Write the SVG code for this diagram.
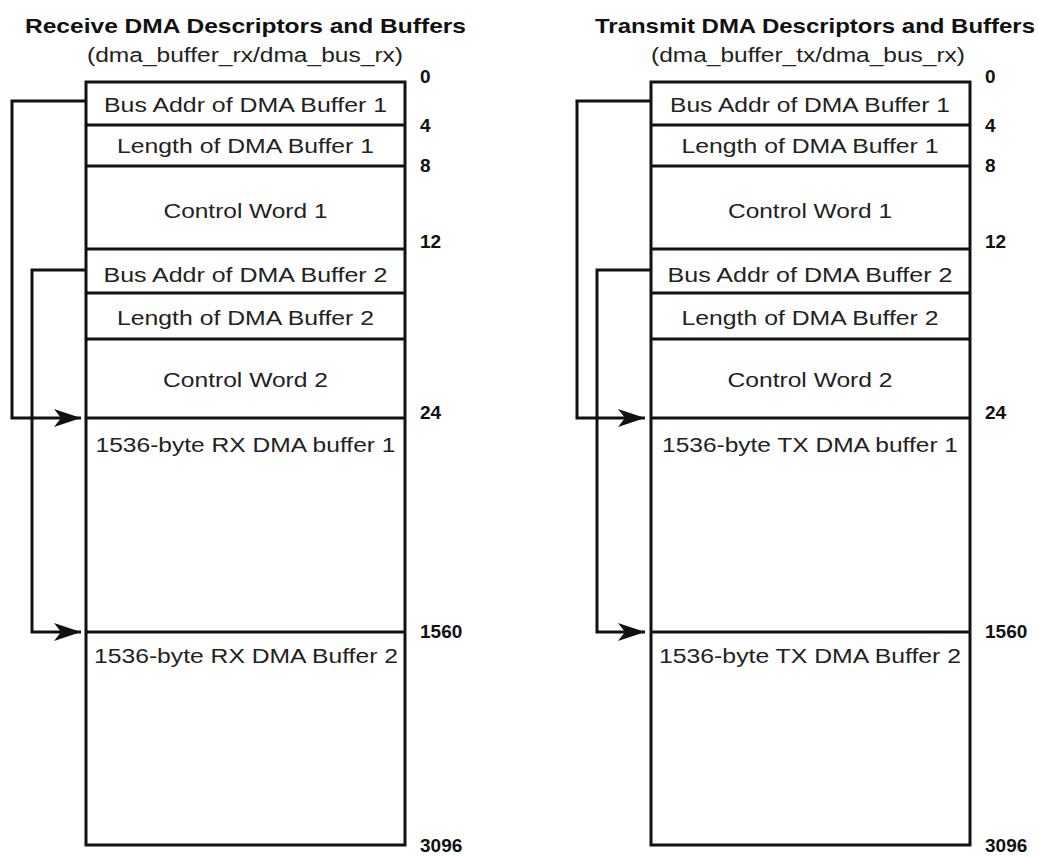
<svg xmlns="http://www.w3.org/2000/svg" width="1039" height="857" viewBox="0 0 1039 857">
<style>
.title{font-family:"Liberation Sans",Arial,sans-serif;font-weight:bold;font-size:21px;fill:#111}
.sub{font-family:"Liberation Sans",Arial,sans-serif;font-size:20px;fill:#222}
.lbl{font-family:"Liberation Sans",Arial,sans-serif;font-size:20px;fill:#222;text-anchor:middle}
.num{font-family:"Liberation Sans",Arial,sans-serif;font-weight:bold;font-size:19px;fill:#111}
.box{fill:#fff;stroke:#111;stroke-width:3}
.sep{stroke:#111;stroke-width:3}
.conn{fill:none;stroke:#111;stroke-width:3}
</style>
<defs>
<marker id="arr" markerUnits="userSpaceOnUse" markerWidth="30" markerHeight="20" viewBox="-28 -10 30 20" refX="0" refY="0" orient="auto">
<path d="M0,0 L-27,-9 L-20,0 L-27,9 Z" fill="#111"/>
</marker>
</defs>

<text class="title" x="25" y="33" textLength="441" lengthAdjust="spacingAndGlyphs">Receive DMA Descriptors and Buffers</text>
<text class="sub" x="87" y="62" textLength="316" lengthAdjust="spacingAndGlyphs">(dma_buffer_rx/dma_bus_rx)</text>
<text class="title" x="595" y="33" textLength="440" lengthAdjust="spacingAndGlyphs">Transmit DMA Descriptors and Buffers</text>
<text class="sub" x="651" y="62" textLength="314" lengthAdjust="spacingAndGlyphs">(dma_buffer_tx/dma_bus_rx)</text>

<g id="rx-table">
<rect class="box" x="86" y="82" width="319" height="763"/>
<line class="sep" x1="86" y1="125" x2="405" y2="125"/>
<line class="sep" x1="86" y1="166" x2="405" y2="166"/>
<line class="sep" x1="86" y1="249" x2="405" y2="249"/>
<line class="sep" x1="86" y1="293" x2="405" y2="293"/>
<line class="sep" x1="86" y1="339" x2="405" y2="339"/>
<line class="sep" x1="86" y1="418" x2="405" y2="418"/>
<line class="sep" x1="86" y1="632" x2="405" y2="632"/>
<text class="lbl" x="245.5" y="112" textLength="283" lengthAdjust="spacingAndGlyphs">Bus Addr of DMA Buffer 1</text>
<text class="lbl" x="245.5" y="153" textLength="257" lengthAdjust="spacingAndGlyphs">Length of DMA Buffer 1</text>
<text class="lbl" x="245.5" y="218" textLength="164" lengthAdjust="spacingAndGlyphs">Control Word 1</text>
<text class="lbl" x="245.5" y="282" textLength="284" lengthAdjust="spacingAndGlyphs">Bus Addr of DMA Buffer 2</text>
<text class="lbl" x="245.5" y="325" textLength="257" lengthAdjust="spacingAndGlyphs">Length of DMA Buffer 2</text>
<text class="lbl" x="245.5" y="387" textLength="165" lengthAdjust="spacingAndGlyphs">Control Word 2</text>
<text class="lbl" x="245.5" y="452" textLength="300" lengthAdjust="spacingAndGlyphs">1536-byte RX DMA buffer 1</text>
<text class="lbl" x="246" y="663" textLength="304" lengthAdjust="spacingAndGlyphs">1536-byte RX DMA Buffer 2</text>
</g>
<g id="rx-offsets">
<text class="num" x="420" y="83">0</text>
<text class="num" x="420" y="132">4</text>
<text class="num" x="420" y="172">8</text>
<text class="num" x="420" y="248">12</text>
<text class="num" x="420" y="419">24</text>
<text class="num" x="420" y="638">1560</text>
<text class="num" x="420" y="852">3096</text>
</g>

<g id="tx-table">
<rect class="box" x="651" y="82" width="319" height="763"/>
<line class="sep" x1="651" y1="125" x2="970" y2="125"/>
<line class="sep" x1="651" y1="166" x2="970" y2="166"/>
<line class="sep" x1="651" y1="249" x2="970" y2="249"/>
<line class="sep" x1="651" y1="293" x2="970" y2="293"/>
<line class="sep" x1="651" y1="339" x2="970" y2="339"/>
<line class="sep" x1="651" y1="418" x2="970" y2="418"/>
<line class="sep" x1="651" y1="632" x2="970" y2="632"/>
<text class="lbl" x="810" y="112" textLength="280" lengthAdjust="spacingAndGlyphs">Bus Addr of DMA Buffer 1</text>
<text class="lbl" x="810" y="153" textLength="257" lengthAdjust="spacingAndGlyphs">Length of DMA Buffer 1</text>
<text class="lbl" x="810" y="218" textLength="164" lengthAdjust="spacingAndGlyphs">Control Word 1</text>
<text class="lbl" x="810" y="282" textLength="285" lengthAdjust="spacingAndGlyphs">Bus Addr of DMA Buffer 2</text>
<text class="lbl" x="810" y="325" textLength="257" lengthAdjust="spacingAndGlyphs">Length of DMA Buffer 2</text>
<text class="lbl" x="810" y="387" textLength="165" lengthAdjust="spacingAndGlyphs">Control Word 2</text>
<text class="lbl" x="810" y="452" textLength="296" lengthAdjust="spacingAndGlyphs">1536-byte TX DMA buffer 1</text>
<text class="lbl" x="810" y="663" textLength="302" lengthAdjust="spacingAndGlyphs">1536-byte TX DMA Buffer 2</text>
</g>
<g id="tx-offsets">
<text class="num" x="985" y="83">0</text>
<text class="num" x="985" y="132">4</text>
<text class="num" x="985" y="172">8</text>
<text class="num" x="985" y="248">12</text>
<text class="num" x="985" y="419">24</text>
<text class="num" x="985" y="638">1560</text>
<text class="num" x="985" y="852">3096</text>
</g>

<g id="connectors">
<path class="conn" d="M86,101 H12 V418 H81" marker-end="url(#arr)"/>
<path class="conn" d="M86,270 H32 V632 H81" marker-end="url(#arr)"/>
<path class="conn" d="M651,101 H577 V418 H645" marker-end="url(#arr)"/>
<path class="conn" d="M651,270 H597 V632 H645" marker-end="url(#arr)"/>
</g>
</svg>
